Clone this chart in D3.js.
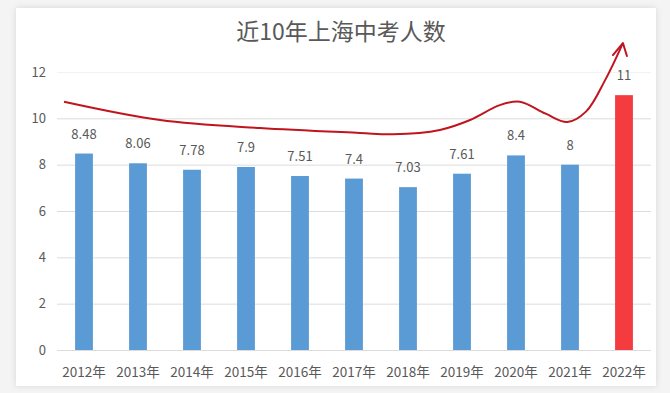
<!DOCTYPE html>
<html>
<head>
<meta charset="utf-8">
<script src="https://cdn.jsdelivr.net/npm/d3@7"></script>
<style>
  html, body { margin: 0; padding: 0; background: #f4f4f4; }
  svg { display: block; }
</style>
</head>
<body>
<svg id="chart" width="670" height="393"></svg>
<script>
// data
const years = ["2012年", "2013年", "2014年", "2015年", "2016年", "2017年", "2018年", "2019年", "2020年", "2021年", "2022年"]
const counts = [8.48, 8.06, 7.78, 7.9, 7.51, 7.4, 7.03, 7.61, 8.4, 8, 11]
const countLabels = ["8.48", "8.06", "7.78", "7.9", "7.51", "7.4", "7.03", "7.61", "8.4", "8", "11"]
const yTicks = [0, 2, 4, 6, 8, 10, 12]
// hand drawn trend arrow: [category index, value]
const trendIdx = [-0.37, 1.41, 3.26, 5.11, 5.72, 6.59, 7.15, 7.7, 8.07, 8.55, 8.95, 9.3, 9.65, 9.98]
const trendVal = [10.72, 9.93, 9.58, 9.37, 9.31, 9.5, 9.93, 10.57, 10.72, 10.2, 9.84, 10.3, 11.65, 13.25]

const svg = d3.select("#chart")
const textColor = "#595959"
const cjk = "'Noto Sans CJK SC', 'Noto Sans', sans-serif"

// card
svg.append("defs").append("filter").attr("id", "shadow")
  .append("feDropShadow").attr("dx", 0).attr("dy", 0).attr("stdDeviation", 3)
  .attr("flood-color", "#000").attr("flood-opacity", 0.12)
svg.append("rect")
  .attr("x", 16).attr("y", 8).attr("width", 640).attr("height", 378)
  .attr("fill", "#fff").attr("filter", "url(#shadow)")

const plotLeft = 57, plotRight = 651, plotTop = 72, plotBottom = 350

const x = d3.scaleBand().domain(years).range([plotLeft, plotRight]).paddingInner(0.67).paddingOuter(0.335)
const y = d3.scaleLinear().domain([0, 12]).range([plotBottom, plotTop])
const xc = i => x(years[0]) + x.bandwidth() / 2 + i * x.step()

// gridlines
svg.append("g").selectAll("line").data(yTicks).join("line")
  .attr("x1", plotLeft).attr("x2", plotRight)
  .attr("y1", d => y(d) + 0.5).attr("y2", d => y(d) + 0.5)
  .attr("stroke", d => d === 12 ? "#f2f2f2" : "#dcdcdc").attr("stroke-width", 1)

// y axis labels
svg.append("g").selectAll("text").data(yTicks).join("text")
  .attr("x", 46).attr("y", d => y(d)).attr("dy", "0.35em")
  .attr("text-anchor", "end")
  .attr("font-family", cjk).attr("font-size", 13).attr("fill", textColor)
  .text(d => d)

// bars
svg.append("g").selectAll("rect").data(counts).join("rect")
  .attr("x", (d, i) => x(years[i]))
  .attr("y", d => y(d))
  .attr("width", x.bandwidth())
  .attr("height", d => y(0) - y(d))
  .attr("fill", (d, i) => i === counts.length - 1 ? "#f43b3f" : "#5b9bd5")

// value labels
svg.append("g").selectAll("text").data(counts).join("text")
  .attr("x", (d, i) => xc(i))
  .attr("y", d => y(d) - 15)
  .attr("text-anchor", "middle")
  .attr("font-family", cjk).attr("font-size", 13).attr("fill", textColor)
  .text((d, i) => countLabels[i])

// x axis labels
svg.append("g").selectAll("text").data(years).join("text")
  .attr("x", d => x(d) + x.bandwidth() / 2)
  .attr("y", 377)
  .attr("text-anchor", "middle")
  .attr("font-family", cjk).attr("font-size", 13.5).attr("fill", textColor)
  .text(d => d)

// title
svg.append("text")
  .attr("x", 341).attr("y", 40)
  .attr("text-anchor", "middle")
  .attr("font-family", cjk).attr("font-size", 23).attr("fill", textColor)
  .text("近10年上海中考人数")

// trend arrow
const pts = trendIdx.map((d, i) => [xc(d), y(trendVal[i])])
svg.append("path")
  .attr("d", d3.line().curve(d3.curveCatmullRom.alpha(0.5))(pts))
  .attr("fill", "none").attr("stroke", "#c0151f").attr("stroke-width", 2)
const tip = pts[pts.length - 1]
svg.append("path")
  .attr("d", `M${tip[0] - 10},${tip[1] + 12} L${tip[0]},${tip[1]} L${tip[0] + 4},${tip[1] + 13}`)
  .attr("fill", "none").attr("stroke", "#c0151f").attr("stroke-width", 2)
  .attr("stroke-linejoin", "round").attr("stroke-linecap", "round")
</script>
</body>
</html>
